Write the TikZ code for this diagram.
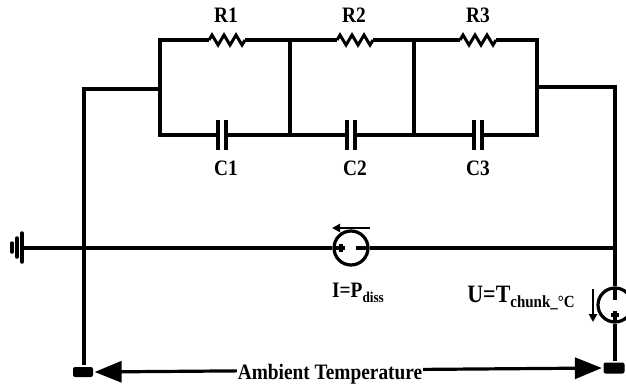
\documentclass[tikz,border=0pt]{standalone}
\usepackage{fontspec}
\setmainfont{Liberation Serif}
\newfontfamily\condfont[FakeStretch=0.88]{Liberation Serif}
\usetikzlibrary{arrows.meta}
\begin{document}
\begin{tikzpicture}[x=1pt,y=-1pt,line width=3.2pt,
  lab/.style={font=\condfont\fontsize{22}{23}\selectfont\bfseries,inner sep=0pt},
  src/.style={circle,draw,line width=3.2pt,minimum size=34pt,inner sep=0pt},
  term/.style={fill=black,rounded corners=2pt,minimum width=20pt,minimum height=10pt,inner sep=0pt},
  res/.pic={\draw[line width=3pt,line join=miter] (-18,0) -- (-15,-5) -- (-9,5) -- (-3,-5) -- (3,5) -- (9,-5) -- (15,5) -- (18,0);
    \coordinate (-a) at (-18,0); \coordinate (-b) at (18,0);},
  cap/.pic={\draw[line width=3.2pt] (-4,-15) -- (-4,15) (4,-15) -- (4,15);
    \coordinate (-a) at (-4,0); \coordinate (-b) at (4,0);},
  bigtip/.tip={Triangle[length=27pt,width=21pt]},
  smalltip/.tip={Triangle[length=8pt,width=8pt]}]
\useasboundingbox (0,0) rectangle (626,383);
% ladder
\coordinate (TL1) at (160,40); \coordinate (TL2) at (290,40);
\coordinate (TL3) at (414,40); \coordinate (TL4) at (537,40);
\coordinate (BL1) at (160,135); \coordinate (BL2) at (290,135);
\coordinate (BL3) at (414,135); \coordinate (BL4) at (537,135);
\pic (r1) at (227,40) {res}; \pic (r2) at (355,40) {res}; \pic (r3) at (478,40) {res};
\pic (c1) at (222,135) {cap}; \pic (c2) at (351,135) {cap}; \pic (c3) at (478,135) {cap};
\draw (c1-a) -- (BL1) -- (TL1) -- (r1-a);
\draw (r1-b) -- (TL2) -- (r2-a);
\draw (r2-b) -- (TL3) -- (r3-a);
\draw (r3-b) -- (TL4) -- (BL4) -- (c3-b);
\draw (c3-a) -- (BL3) -- (c2-b);
\draw (c2-a) -- (BL2) -- (c1-b);
\draw (TL2) -- (BL2); \draw (TL3) -- (BL3);
% labels
\node[lab] (lr1) at (226,15) {R1};
\node[lab] (lr2) at (354,15) {R2};
\node[lab] (lr3) at (478,15) {R3};
\node[lab] (lc1) at (226,168) {C1};
\node[lab] (lc2) at (355,168) {C2};
\node[lab] (lc3) at (478,168) {C3};
% sources
\node[src] (s1) at (351,248) {};
\node[src] (s2) at (615,305) {};
\draw ([xshift=-17pt]s1.center) -- ([xshift=-6pt]s1.center);
\draw ([xshift=-10pt,yshift=-4pt]s1.center) -- ([xshift=-10pt,yshift=4pt]s1.center);
\draw ([xshift=5pt]s1.center) -- ([xshift=17pt]s1.center);
\draw ([yshift=17pt]s2.center) -- ([yshift=5pt]s2.center);
\draw ([yshift=-6pt]s2.center) -- ([yshift=-17pt]s2.center);
\draw ([xshift=-4pt,yshift=-10pt]s2.center) -- ([xshift=4pt,yshift=-10pt]s2.center);
\coordinate (a1s) at (370,228); \coordinate (a1e) at (332,228);
\draw[line width=2.6pt,-smalltip] (a1s) -- (a1e);
\coordinate (a2s) at (593,289); \coordinate (a2e) at (593,322);
\draw[line width=2.6pt,-smalltip] (a2s) -- (a2e);
\node[lab,anchor=center] (li) at (358,293) {I=P\raisebox{-0.45ex}{\fontsize{15}{16}\selectfont diss}};
\node[lab,font=\condfont\fontsize{25}{26}\selectfont\bfseries,anchor=center] (lu) at (521,298) {U=T\raisebox{-0.45ex}{\fontsize{17}{18}\selectfont chunk\_°C}};
% side wires
\node[term] (tL) at (83,372) {};
\node[term,minimum width=21pt,minimum height=11pt] (tR) at (614,368) {};
\coordinate (JL) at (160,89); \coordinate (CL) at (84,89);
\draw (JL) -- (CL) -- (CL |- tL.north);
\coordinate (JR) at (537,87); \coordinate (CR) at (615,87);
\draw (JR) -- (CR) -- (s2.north);
\draw (s2.south) -- (s2.south |- tR.north);
% horizontal line and ground
\coordinate (gnd) at (23,248); \coordinate (JH) at (615,248);
\draw (gnd) -- (s1.west); \draw (s1.east) -- (JH);
\draw[line width=3.5pt,line cap=round] (22,233) -- (22,262);
\draw[line width=3.5pt,line cap=round] (17,238) -- (17,257);
\draw[line width=3.5pt,line cap=round] (12,243) -- (12,252);
% bottom arrow
\draw[bigtip-bigtip] (tL.east) -- (tR.west);
\node[lab,fill=white,inner xsep=1pt,inner ysep=2pt] (amb) at (330,374) {Ambient Temperature};
\end{tikzpicture}
\end{document}
